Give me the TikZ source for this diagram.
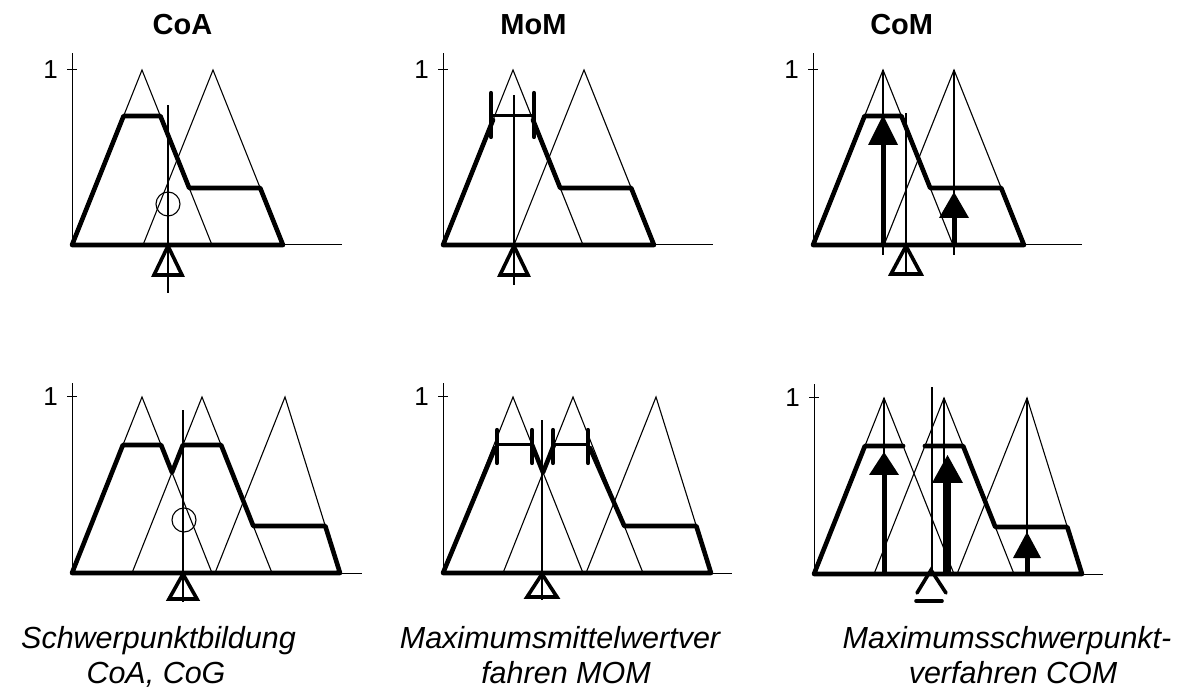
\documentclass[tikz,border=0pt]{standalone}
\usepackage{fontspec}
\setmainfont{Liberation Sans}
\begin{document}
\begin{tikzpicture}[x=1pt,y=1pt]
\tikzset{
  tri/.style={line width=1.1pt, line join=miter},
  ax/.style={line width=1pt},
  env/.style={line width=4.6pt, line join=round, line cap=round},
  mid/.style={line width=3pt},
  bar/.style={line width=4.2pt, line cap=round},
  cgmark/.style={line width=3.6pt, line join=miter},
  shaft/.style={line width=5pt},
  shaftb/.style={line width=7.5pt},
  lbl/.style={font=\fontsize{26}{26}\selectfont, inner sep=0pt},
  ttl/.style={font=\fontsize{29}{29}\selectfont\bfseries, inner sep=0pt},
  capt/.style={font=\fontsize{30.5}{30.5}\selectfont\itshape, inner sep=0pt}
}
\useasboundingbox (0,0) rectangle (1188,691);
\fill[white] (0,0) rectangle (1188,691);

% titles
\node[ttl, anchor=base] (tCoA) at (182.5,656) {CoA};
\node[ttl, anchor=base] (tMoM) at (533.5,656) {MoM};
\node[ttl, anchor=base] (tCoM) at (901.7,656) {CoM};

% ---------- top left: CoA ----------
\begin{scope}[shift={(72,446)}]
  \draw[ax] (0,0) -- (0,192); \draw[ax] (0,0) -- (270,0); \draw[ax] (-5,175) -- (5,175);
  \node[lbl, anchor=base east] (oneA) at (-14,166) {1};
  \draw[tri] (0,0) -- (70,175) -- (140,0);
  \draw[tri] (71,0) -- (141,175) -- (211,0);
  \draw[env] (0,0) -- (51.6,129) -- (88.4,129) -- (117.2,57) -- (188.2,57) -- (211,0) -- cycle;
  \draw[tri] (96,-48) -- (96,140);
  \draw[tri] (96,41) circle[radius=12pt];
  \draw[cgmark] (96,-1) -- (82,-30) -- (110,-30) -- cycle;
\end{scope}

% ---------- top middle: MoM ----------
\begin{scope}[shift={(443,446)}]
  \draw[ax] (0,0) -- (0,192); \draw[ax] (0,0) -- (270,0); \draw[ax] (-5,175) -- (5,175);
  \node[lbl, anchor=base east] (oneB) at (-14,166) {1};
  \draw[tri] (0,0) -- (70,175) -- (140,0);
  \draw[tri] (71,0) -- (141,175) -- (211,0);
  \draw[env] (50,125) -- (0,0) -- (211,0) -- (188.2,57) -- (117.2,57) -- (90,125);
  \draw[mid] (50,129) -- (90,129);
  \draw[bar] (48,108) -- (48,152);
  \draw[bar] (91,108) -- (91,152);
  \draw[tri] (71,-40) -- (71,150);
  \draw[cgmark] (71,-1) -- (57,-30) -- (85,-30) -- cycle;
\end{scope}

% ---------- top right: CoM ----------
\begin{scope}[shift={(813,446)}]
  \draw[ax] (0,0) -- (0,192); \draw[ax] (0,0) -- (269,0); \draw[ax] (-5,175) -- (5,175);
  \node[lbl, anchor=base east] (oneC) at (-14,166) {1};
  \draw[tri] (0,0) -- (70,175) -- (140,0);
  \draw[tri] (71,0) -- (141,175) -- (211,0);
  \draw[env] (0,0) -- (51.6,129) -- (88.4,129) -- (117.2,57) -- (188.2,57) -- (211,0) -- cycle;
  \draw[tri] (70,-10) -- (70,175);
  \draw[tri] (141,-10) -- (141,175);
  \draw[shaft] (70,0) -- (70,101);
  \fill (55,100) -- (85,100) -- (70,130) -- cycle;
  \draw[shaft] (141,0) -- (141,28);
  \fill (126,27) -- (156,27) -- (141,53) -- cycle;
  \draw[tri] (93,-27) -- (93,132);
  \draw[cgmark] (93,-1) -- (78,-29) -- (108,-29) -- cycle;
\end{scope}

% ---------- bottom left: CoA ----------
\begin{scope}[shift={(72,118)}]
  \draw[ax] (0,0) -- (0,190); \draw[ax] (0,0) -- (290,0); \draw[ax] (-5,176) -- (5,176);
  \node[lbl, anchor=base east] (oneD) at (-14,167) {1};
  \draw[tri] (0,0) -- (70,176) -- (140,0);
  \draw[tri] (60,0) -- (130,176) -- (200,0);
  \draw[tri] (143,0) -- (213,176) -- (268,0);
  \draw[env] (0,0) -- (50.9,128) -- (89.1,128) -- (100,100.6) -- (110.9,128) -- (149.1,128) -- (181.3,47) -- (253.3,47) -- (268,0) -- cycle;
  \draw[tri] (111,-29) -- (111,163);
  \draw[tri] (112,53) circle[radius=12pt];
  \draw[cgmark] (111,-1) -- (97,-26) -- (125,-26) -- cycle;
\end{scope}

% ---------- bottom middle: MoM ----------
\begin{scope}[shift={(443,118)}]
  \draw[ax] (0,0) -- (0,190); \draw[ax] (0,0) -- (289,0); \draw[ax] (-5,176) -- (5,176);
  \node[lbl, anchor=base east] (oneE) at (-14,167) {1};
  \draw[tri] (0,0) -- (70,176) -- (140,0);
  \draw[tri] (60,0) -- (130,176) -- (200,0);
  \draw[tri] (143,0) -- (213,176) -- (268,0);
  \draw[env] (52,125) -- (0,0) -- (268,0) -- (253.3,47) -- (181.3,47) -- (147,125);
  \draw[env] (89.1,128) -- (100,100.6) -- (110.9,128);
  \draw[mid] (54,128) -- (89,128);
  \draw[mid] (110,128) -- (145,128);
  \draw[bar] (54,110) -- (54,143);
  \draw[bar] (89,110) -- (89,143);
  \draw[bar] (110,110) -- (110,143);
  \draw[bar] (145,110) -- (145,143);
  \draw[tri] (99,-27) -- (99,153);
  \draw[cgmark] (99,-1) -- (84,-24) -- (114,-24) -- cycle;
\end{scope}

% ---------- bottom right: CoM ----------
\begin{scope}[shift={(814,117)}]
  \draw[ax] (0,0) -- (0,190); \draw[ax] (0,0) -- (289,0); \draw[ax] (-5,176) -- (5,176);
  \node[lbl, anchor=base east] (oneF) at (-14,167) {1};
  \draw[tri] (0,0) -- (70,176) -- (140,0);
  \draw[tri] (60,0) -- (130,176) -- (200,0);
  \draw[tri] (143,0) -- (213,176) -- (268,0);
  \draw[env] (89.1,128) -- (50.9,128) -- (0,0) -- (268,0) -- (253.3,47) -- (181.3,47) -- (149.1,128) -- (110.9,128);
  \draw[tri] (70,0) -- (70,176);
  \draw[tri] (130,0) -- (130,176);
  \draw[tri] (213,0) -- (213,176);
  \draw[shaft] (70,0) -- (70,100);
  \fill (55,99) -- (85,99) -- (70,122) -- cycle;
  \draw[shaftb] (133,0) -- (133,92);
  \fill (118,91) -- (149,91) -- (133.5,119) -- cycle;
  \draw[shaft] (213,0) -- (213,17);
  \fill (199,16) -- (227,16) -- (213,42) -- cycle;
  \draw[tri] (118,4) -- (118,187);
  \draw[cgmark, line cap=round] (103,-19) -- (117,4) -- (132,-19);
  \draw[cgmark, line cap=round] (102,-27) -- (128,-27);
\end{scope}

% captions
\node[capt, anchor=base] (c1a) at (158.5,43) {Schwerpunktbildung};
\node[capt, anchor=base] (c1b) at (156,7.5) {CoA, CoG};
\node[capt, anchor=base] (c2a) at (560,43) {Maximumsmittelwertver};
\node[capt, anchor=base] (c2b) at (566,7.5) {fahren MOM};
\node[capt, anchor=base] (c3a) at (1007,43) {Maximumsschwerpunkt-};
\node[capt, anchor=base] (c3b) at (1013,7.5) {verfahren COM};
\end{tikzpicture}
\end{document}
